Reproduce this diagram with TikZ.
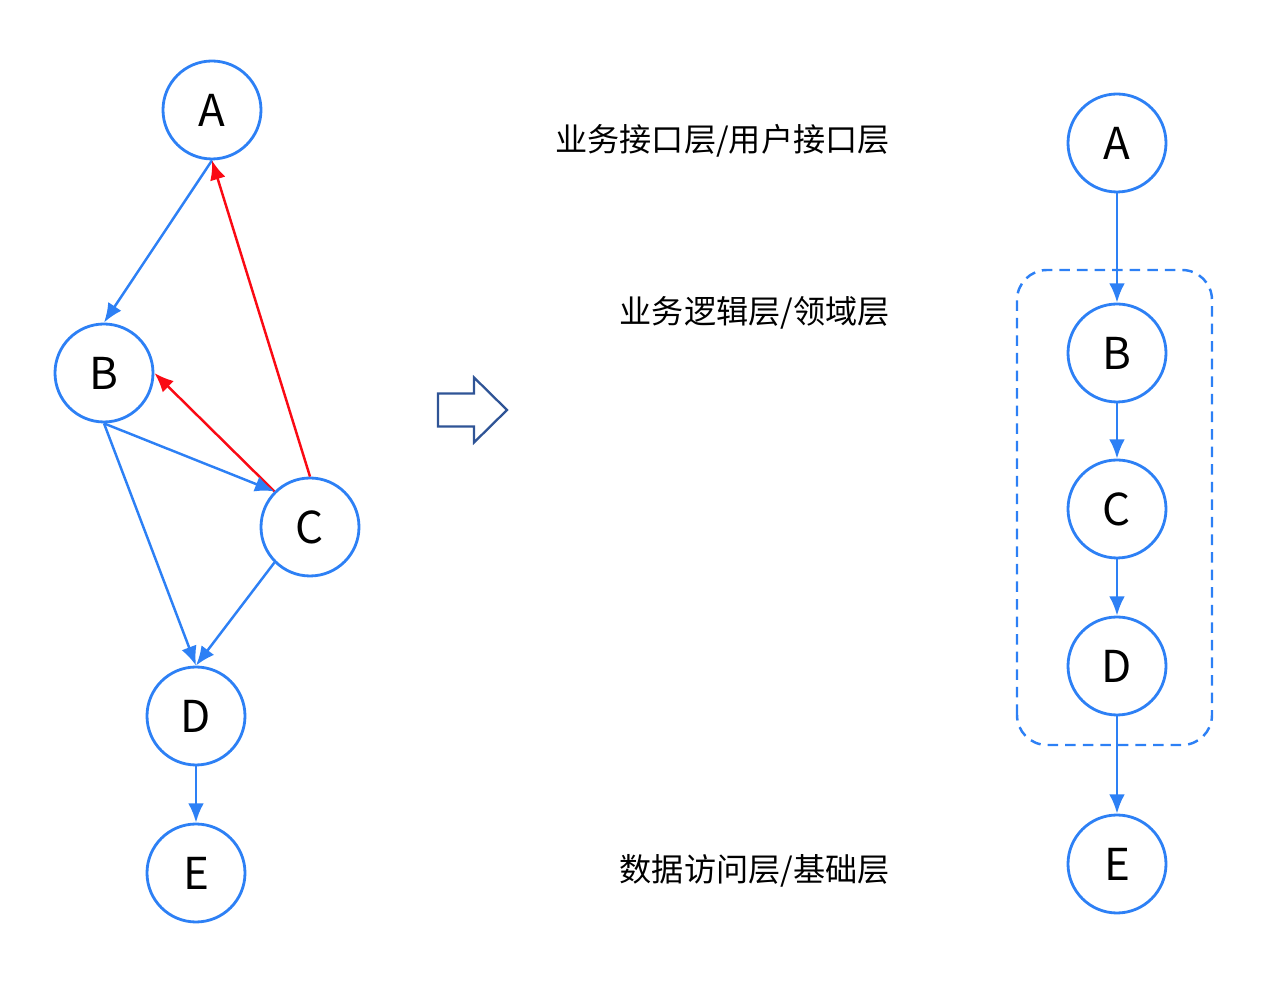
\documentclass[tikz,border=0pt]{standalone}
\usepackage{fontspec}
\setmainfont{Noto Sans CJK SC}
\usepackage{tikz}
\usetikzlibrary{arrows.meta}

\definecolor{nodeblue}{RGB}{45,128,245}
\definecolor{edgered}{RGB}{250,10,20}
\definecolor{bigarrow}{RGB}{47,84,150}

\tikzset{
	vtx/.style={circle,draw=nodeblue,line width=1.6pt,minimum size=1.96cm,inner sep=0pt,font=\fontsize{25}{25}\selectfont},
	bedge/.style={nodeblue,line width=1.4pt,-{Latex[length=11pt,width=9pt]}},
	redge/.style={edgered,line width=1.4pt,-{Latex[length=11pt,width=9pt]}},
	layer/.style={anchor=east,font=\fontsize{18.3}{18.3}\selectfont,inner sep=0pt}
}

\begin{document}
\begin{tikzpicture}
	\useasboundingbox (0,0) rectangle (25.6,20.12);

		\node[vtx] (a1) at ( 4.24,17.92) {A};
		\node[vtx] (b1) at ( 2.08,12.66) {B};
		\node[vtx] (c1) at ( 6.20, 9.58) {C};
		\node[vtx] (d1) at ( 3.92, 5.80) {D};
		\node[vtx] (e1) at ( 3.92, 2.66) {E};

		\draw[bedge] (a1.south) to (b1.north);
		\draw[redge] (c1.north) to (a1.south);
		\draw[redge] (c1.north west) to (b1.east);
		\draw[bedge] (b1.south) to (c1.north west);
		\draw[bedge] (b1.south) to (d1.north);
		\draw[bedge] (c1.south west) to (d1.north);
		\draw[bedge] (d1.south) to (e1.north);

		% hollow arrow
		\draw[bigarrow,line width=1.3pt,line join=miter] (8.76,11.59) -- (9.48,11.59) -- (9.48,11.27) -- (10.14,11.92)
			-- (9.48,12.57) -- (9.48,12.25) -- (8.76,12.25) -- cycle;

		\node[layer] (t1) at (17.80,17.30) {业务接口层/用户接口层};
		\node[layer] (t2) at (17.80,13.86) {业务逻辑层/领域层};
		\node[layer] (t3) at (17.80, 2.70) {数据访问层/基础层};

		\draw[nodeblue,line width=1.4pt,dash pattern=on 6pt off 4pt,rounded corners=0.6cm] (20.34,5.22) rectangle (24.24,14.72);

		\node[vtx] (a2) at (22.34,17.26) {A};
		\node[vtx] (b2) at (22.34,13.06) {B};
		\node[vtx] (c2) at (22.34, 9.94) {C};
		\node[vtx] (d2) at (22.34, 6.80) {D};
		\node[vtx] (e2) at (22.34, 2.84) {E};

		\draw[bedge] (a2) to (b2);
		\draw[bedge] (b2) to (c2);
		\draw[bedge] (c2) to (d2);
		\draw[bedge] (d2) to (e2);

	\end{tikzpicture}
\end{document}
